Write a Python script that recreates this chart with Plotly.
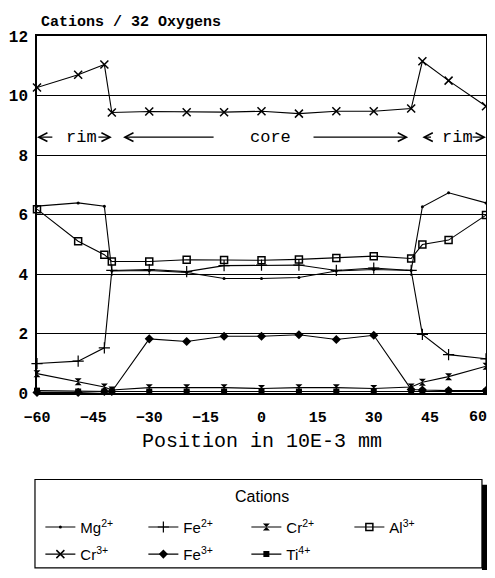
import plotly.graph_objects as go

# ---------------- data ----------------
positions = [-60, -49, -42, -40, -30, -20, -10, 0, 10, 20, 30, 40, 43, 50, 60]

mg2 = [6.28, 6.39, 6.28, 4.10, 4.12, 4.05, 3.85, 3.85, 3.88, 4.10, 4.15, 4.12, 6.26, 6.73, 6.39]
fe2 = [0.99, 1.07, 1.52, 4.12, 4.15, 4.08, 4.28, 4.30, 4.30, 4.12, 4.20, 4.12, 1.97, 1.29, 1.15]
cr2 = [0.65, 0.38, 0.20, 0.10, 0.18, 0.18, 0.18, 0.15, 0.18, 0.18, 0.15, 0.20, 0.36, 0.55, 0.90]
al3 = [6.18, 5.10, 4.65, 4.42, 4.42, 4.48, 4.47, 4.46, 4.49, 4.54, 4.60, 4.52, 4.99, 5.14, 5.98]
cr3 = [10.27, 10.70, 11.04, 9.43, 9.46, 9.44, 9.44, 9.47, 9.39, 9.47, 9.47, 9.56, 11.15, 10.50, 9.64]
fe3 = [0.02, 0.02, 0.05, 0.05, 1.82, 1.73, 1.91, 1.91, 1.96, 1.80, 1.94, 0.12, 0.10, 0.08, 0.08]
ti4 = [0.08, 0.05, 0.05, 0.05, 0.05, 0.05, 0.05, 0.05, 0.05, 0.05, 0.05, 0.05, 0.05, 0.05, 0.05]

x_ticks = [-60, -45, -30, -15, 0, 15, 30, 45, 60]
y_ticks = [0, 2, 4, 6, 8, 10, 12]

series = [
    ("Mg<sup>2+</sup>", mg2, dict(symbol="circle", size=3), "legend"),
    ("Fe<sup>2+</sup>", fe2, dict(symbol="cross-thin", size=8, line=dict(width=1.2, color="black")), "legend"),
    ("Cr<sup>2+</sup>", cr2, dict(symbol="hourglass", size=7), "legend"),
    ("Al<sup>3+</sup>", al3, dict(symbol="square-open", size=7, line=dict(width=1.5, color="black")), "legend"),
    ("Cr<sup>3+</sup>", cr3, dict(symbol="x-thin", size=8, line=dict(width=1.5, color="black")), "legend2"),
    ("Fe<sup>3+</sup>", fe3, dict(symbol="diamond", size=7), "legend2"),
    ("Ti<sup>4+</sup>", ti4, dict(symbol="square", size=6), "legend2"),
]

fig = go.Figure()
for name, vals, mk, lg in series:
    mk = dict(mk)
    mk.setdefault("color", "black")
    fig.add_trace(go.Scatter(
        x=positions, y=vals, name=name, mode="lines+markers",
        line=dict(color="black", width=1.1),
        marker=mk, cliponaxis=False, legend=lg,
    ))

mono = "Liberation Mono"
legfont = dict(family="Liberation Sans", size=15, color="black")
leg_common = dict(
    orientation="h", xanchor="left", yanchor="middle",
    entrywidth=58, entrywidthmode="pixels",
    font=legfont, bgcolor="rgba(0,0,0,0)", borderwidth=0, itemsizing="trace",
)

def fmt(v):
    return str(v).replace("-", "−")

# last tick label is drawn right-aligned so it stays inside the window
x_ticktext = [fmt(v) for v in x_ticks[:-1]] + [""]
tickfont_x = dict(family=mono, size=15, color="black", weight="bold")

# page body has an 8px margin on every side, so the figure is sized smaller
fig.update_layout(
    width=487, height=562,
    margin=dict(l=29, r=9, t=28, b=177, autoexpand=False),
    paper_bgcolor="white", plot_bgcolor="white",
    showlegend=True,
    legend=dict(x=0.0075, y=-0.376, **leg_common),
    legend2=dict(x=0.0075, y=-0.452, **leg_common),
    xaxis=dict(
        range=[-60, 60], tickvals=x_ticks, ticktext=x_ticktext,
        showgrid=False, zeroline=False, automargin=False,
        showline=True, linecolor="black", linewidth=1.5, mirror=True,
        ticks="", ticklabelstandoff=9, ticklabeloverflow="allow",
        tickfont=tickfont_x,
    ),
    yaxis=dict(
        range=[0, 12], tickvals=y_ticks, automargin=False,
        showgrid=True, gridcolor="black", gridwidth=1,
        zeroline=False,
        showline=True, linecolor="black", linewidth=1.5, mirror=True,
        ticks="", ticklabelstandoff=4, ticklabeloverflow="allow",
        tickfont=dict(family=mono, size=16, color="black", weight="bold"),
    ),
)

fig.add_annotation(text=fmt(x_ticks[-1]), x=x_ticks[-1], y=0, xref="x", yref="y",
                   xanchor="right", yanchor="top", xshift=3, yshift=-14, showarrow=False,
                   font=tickfont_x)

# axis titles as annotations
fig.add_annotation(text="Cations / 32 Oxygens", xref="paper", yref="paper",
                   x=0.004, y=1.038, xanchor="left", yanchor="middle", showarrow=False,
                   font=dict(family=mono, size=15, color="black", weight="bold"))
fig.add_annotation(text="Position in 10E-3 mm", xref="paper", yref="paper",
                   x=0.5, y=-0.135, xanchor="center", yanchor="middle", showarrow=False,
                   font=dict(family=mono, size=20, color="black"))
# legend title
fig.add_annotation(text="Cations", xref="paper", yref="paper",
                   x=0.5, y=-0.29, xanchor="center", yanchor="middle", showarrow=False,
                   font=dict(family="Liberation Sans", size=16, color="black"))

# rim / core labels
ylab = 8.6
for txt, xc in [("rim", -48), ("core", 2.5), ("rim", 52.4)]:
    fig.add_annotation(text=txt, x=xc, y=ylab, xref="x", yref="y", showarrow=False,
                       yanchor="middle", font=dict(family=mono, size=17, color="black"))
for head, tail in [(-60, -55.5), (-40, -44), (-37, -12.4), (39.2, 13.5), (43, 45.7), (60, 56)]:
    fig.add_annotation(text="", x=head, y=ylab, ax=tail, ay=ylab, xref="x", yref="y",
                       axref="x", ayref="y", showarrow=True, arrowhead=5, arrowsize=1.4,
                       arrowwidth=1.2, arrowcolor="black", standoff=0, startstandoff=0)

# legend frame and shadow
fig.add_shape(type="rect", xref="paper", yref="paper",
              x0=-0.0045, x1=0.991, y0=-0.2423, y1=-0.49,
              line=dict(color="black", width=1.2), fillcolor="rgba(0,0,0,0)", layer="below")
fig.add_shape(type="rect", xref="paper", yref="paper",
              x0=0.991, x1=1.0156, y0=-0.257, y1=-0.62,
              line=dict(width=0), fillcolor="black")

fig.write_html("out.html")
